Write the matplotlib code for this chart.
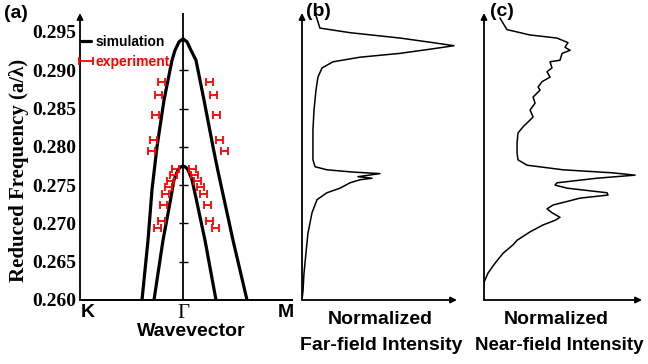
import matplotlib
matplotlib.use("Agg")
import matplotlib.pyplot as plt

# ---------------- data ----------------
# panel (a): band structure (wavevector k, Gamma at 0; reduced frequency)
upper_k = [-0.41, -0.35, -0.31, -0.26, -0.19, -0.11, -0.08, -0.04, 0.0,
           0.04, 0.08, 0.13, 0.21, 0.30, 0.35, 0.50, 0.64]
upper_f = [0.2600, 0.2678, 0.2744, 0.2800, 0.2861, 0.2913, 0.2926, 0.2937, 0.2941,
           0.2937, 0.2926, 0.2913, 0.2861, 0.2800, 0.2768, 0.2678, 0.2600]
lower_k = [-0.29, -0.20, -0.13, -0.09, -0.05, -0.025, 0.0, 0.025, 0.05, 0.09, 0.14, 0.22, 0.33]
lower_f = [0.2600, 0.2678, 0.2727, 0.2757, 0.2770, 0.27735, 0.2775, 0.27735, 0.2770,
           0.2757, 0.2727, 0.2678, 0.2600]

exp_k = [-0.213, -0.247, -0.280, -0.297, -0.313,
         0.263, 0.303, 0.337, 0.365, 0.415,
         -0.08, -0.10, -0.13, -0.15, -0.18, -0.20, -0.215, -0.26,
         0.09, 0.11, 0.14, 0.17, 0.20, 0.24, 0.26, 0.32]
exp_f = [0.2885, 0.2867, 0.2842, 0.2809, 0.2794,
         0.2885, 0.2867, 0.2842, 0.2809, 0.2794,
         0.2771, 0.2763, 0.2755, 0.2748, 0.2738, 0.2724, 0.2703, 0.2694,
         0.2771, 0.2763, 0.2755, 0.2748, 0.2738, 0.2724, 0.2703, 0.2694]
exp_err = 0.035

ytick_vals = [0.260, 0.265, 0.270, 0.275, 0.280, 0.285, 0.290, 0.295]
ytick_labels = ["0.260", "0.265", "0.270", "0.275", "0.280", "0.285", "0.290", "0.295"]
gamma_ticks = [0.265, 0.270, 0.275, 0.280, 0.285, 0.290]
xtick_vals = [-0.95, 0.0, 1.03]
xtick_labels = ["K", "Γ", "M"]

# panel (b): normalized far-field intensity vs frequency
far_I = [0.086, 0.118, 0.316, 0.645, 0.862, 1.0, 0.862, 0.645, 0.382, 0.204, 0.132,
         0.105, 0.092, 0.079, 0.072, 0.072, 0.072, 0.086, 0.164, 0.336, 0.513, 0.368,
         0.461, 0.382, 0.316, 0.250, 0.164, 0.099, 0.066, 0.039, 0.026, 0.013, 0.007, 0.0]
far_f = [0.2975, 0.2955, 0.2949, 0.2942, 0.2936, 0.2932, 0.2928, 0.2922, 0.2917, 0.2911, 0.2903,
         0.2891, 0.2874, 0.2848, 0.2822, 0.2796, 0.2783, 0.2774, 0.2770, 0.2767, 0.2765, 0.2761,
         0.2759, 0.2757, 0.2753, 0.2746, 0.2740, 0.2731, 0.2714, 0.2687, 0.2661, 0.2635, 0.2613, 0.2600]

# panel (c): normalized near-field intensity vs frequency
near_I = [0.106, 0.152, 0.305, 0.483, 0.556, 0.536, 0.570, 0.517, 0.503, 0.437, 0.450,
          0.417, 0.437, 0.384, 0.358, 0.371, 0.325, 0.338, 0.305, 0.325, 0.305, 0.258,
          0.225, 0.219, 0.219, 0.225, 0.285, 0.523, 0.854, 1.0, 0.748, 0.483, 0.470,
          0.550, 0.815, 0.821, 0.636, 0.457, 0.417, 0.450, 0.503, 0.470, 0.391, 0.305,
          0.219, 0.192, 0.126, 0.073, 0.026, 0.0]
near_f = [0.2968, 0.2953, 0.2946, 0.2942, 0.2936, 0.2930, 0.2926, 0.2922, 0.2913, 0.2911, 0.2903,
          0.2898, 0.2891, 0.2885, 0.2878, 0.2874, 0.2865, 0.2857, 0.2848, 0.2839, 0.2835, 0.2826,
          0.2818, 0.2805, 0.2792, 0.2783, 0.2776, 0.2770, 0.2766, 0.2763, 0.2759, 0.2753, 0.2750,
          0.2746, 0.2740, 0.2737, 0.2733, 0.2724, 0.2719, 0.2714, 0.2708, 0.2704, 0.2698, 0.2689,
          0.2678, 0.2672, 0.2661, 0.2648, 0.2635, 0.2623]

FMIN, FMAX = 0.260, 0.29747

# ---------------- figure ----------------
W, H = 648, 364
fig = plt.figure(figsize=(W / 100, H / 100), dpi=100)
SANS = "Liberation Sans"
SERIF = "Liberation Serif"


def px_axes(left, top, right, bottom):
    return fig.add_axes([left / W, 1 - bottom / H, (right - left) / W, (bottom - top) / H])


arrow = dict(arrowstyle="-|>", color="black", lw=1.3, mutation_scale=9, shrinkA=0, shrinkB=0)

# ---- panel (a)
ax = px_axes(80, 13, 292, 300)
ax.set_xlim(-1.03, 1.09)
ax.set_ylim(FMIN, FMAX)
for s in ["top", "right", "left"]:
    ax.spines[s].set_visible(False)
ax.spines["bottom"].set_linewidth(1.4)
ax.annotate("", xy=(0, 1), xytext=(0, 0), xycoords="axes fraction", arrowprops=arrow)
ax.axvline(0, color="black", lw=1.3)
ax.hlines(gamma_ticks, -0.045, 0.045, color="black", lw=1.0)

sim_line, = ax.plot(upper_k, upper_f, color="black", lw=2.3, solid_capstyle="round",
                    solid_joinstyle="round")
ax.plot(lower_k, lower_f, color="black", lw=2.3, solid_capstyle="round", solid_joinstyle="round")
eb = ax.errorbar(exp_k, exp_f, xerr=exp_err, fmt="none", ecolor="red", elinewidth=1.3,
                 capsize=3.2, capthick=1.3)

ax.set_yticks(ytick_vals, labels=ytick_labels)
for t in ax.get_yticklabels():
    t.set_fontfamily(SERIF)
    t.set_fontweight("bold")
    t.set_fontsize(14)
ax.tick_params(axis="y", length=0, pad=3)
ax.set_xticks(xtick_vals, labels=xtick_labels)
ax.tick_params(axis="x", length=0, pad=3)
for t in ax.get_xticklabels():
    if t.get_text() == "Γ":
        t.set_fontfamily(SERIF)
        t.set_fontsize(15)
    else:
        t.set_fontfamily(SANS)
        t.set_fontweight("bold")
        t.set_fontsize(14)

ax.legend([sim_line, eb], ["simulation", "experiment"], loc="upper left",
          bbox_to_anchor=(81 / W, 1 - 35 / H), bbox_transform=fig.transFigure,
          frameon=False, handlelength=0.7, handletextpad=0.35, borderpad=0, borderaxespad=0,
          labelspacing=0.45, prop={"family": SANS, "weight": "bold", "size": 10},
          labelcolor=["black", "red"])

fig.text(16 / W, 1 - 14 / H, "(a)", family=SANS, weight="bold", fontsize=14, ha="center", va="center")
fig.text(19 / W, 1 - 170 / H, "Reduced Frequency (a/λ)", family=SERIF, weight="bold",
         fontsize=15, rotation=90, ha="center", va="center")
fig.text(191 / W, 1 - 332 / H, "Wavevector", family=SANS, weight="bold", fontsize=14,
         ha="center", va="center")

# ---- panel (b)
bx = px_axes(302, 13, 457, 300)
bx.set_xlim(0, 1.02)
bx.set_ylim(FMIN, FMAX)
bx.axis("off")
bx.annotate("", xy=(0, 1), xytext=(0, 0), xycoords="axes fraction", arrowprops=arrow)
bx.annotate("", xy=(1, 0), xytext=(0, 0), xycoords="axes fraction", arrowprops=arrow)
bx.plot(far_I, far_f, color="black", lw=1.1)
fig.text(318 / W, 1 - 11 / H, "(b)", family=SANS, weight="bold", fontsize=14, ha="center", va="center")
fig.text(380 / W, 1 - 320 / H, "Normalized", family=SANS, weight="bold", fontsize=14,
         ha="center", va="center")
fig.text(381 / W, 1 - 345 / H, "Far-field Intensity", family=SANS, weight="bold", fontsize=14,
         ha="center", va="center")

# ---- panel (c)
cx = px_axes(484, 13, 642, 300)
cx.set_xlim(0, 1.046)
cx.set_ylim(FMIN, FMAX)
cx.axis("off")
cx.annotate("", xy=(0, 1), xytext=(0, 0), xycoords="axes fraction", arrowprops=arrow)
cx.annotate("", xy=(1, 0), xytext=(0, 0), xycoords="axes fraction", arrowprops=arrow)
cx.plot(near_I, near_f, color="black", lw=1.1)
fig.text(502 / W, 1 - 11 / H, "(c)", family=SANS, weight="bold", fontsize=14, ha="center", va="center")
fig.text(556 / W, 1 - 320 / H, "Normalized", family=SANS, weight="bold", fontsize=14,
         ha="center", va="center")
fig.text(559 / W, 1 - 345 / H, "Near-field Intensity", family=SANS, weight="bold", fontsize=13.5,
         ha="center", va="center")

fig.savefig("out.png", dpi=100)
